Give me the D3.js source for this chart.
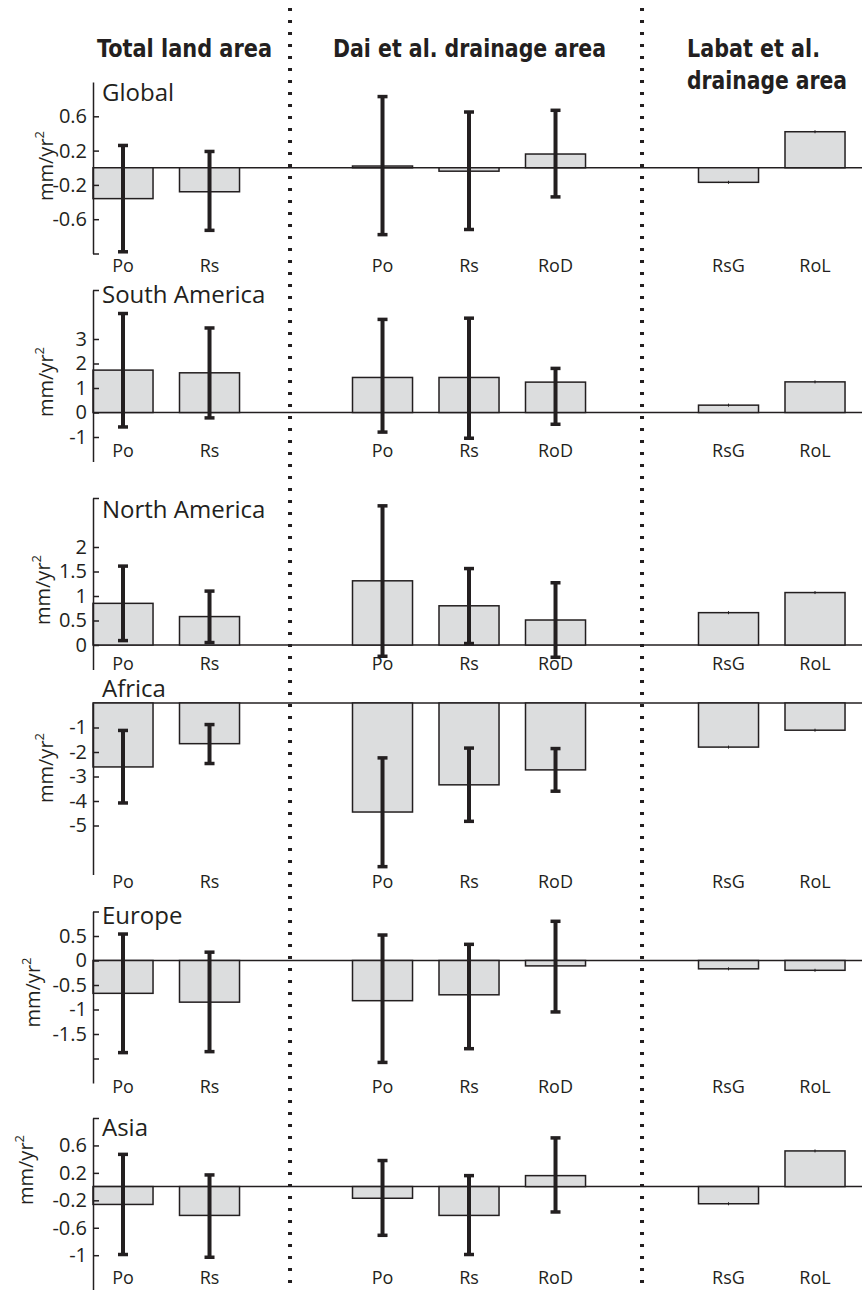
<!DOCTYPE html>
<html>
<head>
<meta charset="utf-8">
<script src="https://cdnjs.cloudflare.com/ajax/libs/d3/7.8.5/d3.min.js"></script>
<style>
    body { margin: 0; background: #fff; }
    svg { display: block; }
    text { font-family: 'Open Sans', 'Noto Sans', sans-serif; fill: #231f20; }
    .head { font-family: 'DejaVu Sans Condensed', 'Liberation Sans Narrow', sans-serif; font-weight: bold; }
</style>
</head>
<body>
<svg id="chart" width="862" height="1292"></svg>
<script>
(function() {
    'use strict';

    // ---- data ----
    var regions = ['Global', 'South America', 'North America', 'Africa', 'Europe', 'Asia'];
    var groupTitles = [['Total land area'], ['Dai et al. drainage area'], ['Labat et al.', 'drainage area']];
    var categories = ['Po', 'Rs', 'Po', 'Rs', 'RoD', 'RsG', 'RoL'];
    var categoryGroup = [0, 0, 1, 1, 1, 2, 2];

    // bar values, mm/yr^2 (one row per region, one column per category)
    var barValues = [
        [-0.36, -0.28, 0.02, -0.04, 0.16, -0.17, 0.42],
        [1.73, 1.62, 1.43, 1.43, 1.24, 0.30, 1.25],
        [0.85, 0.58, 1.31, 0.80, 0.51, 0.66, 1.07],
        [-2.61, -1.66, -4.45, -3.34, -2.73, -1.80, -1.11],
        [-0.67, -0.85, -0.82, -0.70, -0.11, -0.17, -0.20],
        [-0.26, -0.42, -0.17, -0.42, 0.16, -0.25, 0.52]
    ];
    // error bar ends (null = no visible error bar)
    var errLow = [
        [-0.98, -0.73, -0.78, -0.72, -0.34, null, null],
        [-0.59, -0.22, -0.80, -1.05, -0.48, null, null],
        [0.09, 0.05, -0.23, 0.03, -0.25, null, null],
        [-4.08, -2.47, -6.68, -4.83, -3.60, null, null],
        [-1.88, -1.86, -2.08, -1.80, -1.05, null, null],
        [-0.99, -1.03, -0.71, -0.99, -0.37, null, null]
    ];
    var errHigh = [
        [0.26, 0.19, 0.83, 0.65, 0.67, null, null],
        [4.04, 3.45, 3.80, 3.85, 1.80, null, null],
        [1.61, 1.10, 2.84, 1.56, 1.27, null, null],
        [-1.12, -0.88, -2.24, -1.84, -1.86, null, null],
        [0.54, 0.17, 0.52, 0.33, 0.80, null, null],
        [0.47, 0.17, 0.38, 0.16, 0.71, null, null]
    ];

    var yDomains = [[-1, 1], [-2, 5], [-0.5, 3], [-7, 0], [-2.5, 1], [-1.5, 1]];
    var tickValues = [
        [-1, -0.6, -0.2, 0.2, 0.6],
        [-1, 0, 1, 2, 3, 5],
        [0, 0.5, 1, 1.5, 2, 3],
        [-5, -4, -3, -2, -1],
        [-2, -1.5, -1, -0.5, 0, 0.5, 1],
        [-1, -0.6, -0.2, 0.2, 0.6, 1]
    ];
    var tickLabels = [
        ['', '-0.6', '-0.2', '0.2', '0.6'],
        ['-1', '0', '1', '2', '3', ''],
        ['0', '0.5', '1', '1.5', '2', ''],
        ['-5', '-4', '-3', '-2', '-1'],
        ['', '-1.5', '-1', '-0.5', '0', '0.5', ''],
        ['-1', '-0.6', '-0.2', '0.2', '0.6', '']
    ];

    // ---- layout ----
    var width = 862;
    var height = 1292;
    var axisX = 93;
    var panelHeight = 171.5;
    var panelTop = [82, 290, 498, 703, 911.5, 1118];
    var titleDy = [19, 12.5, 20, -6, 12, 18];
    var labelDy = [190, 167, 172, 185, 181, 166];
    var yLabelX = [53, 53, 50, 53, 40, 33];
    var yLabelDy = [84, 92, 92, 65, 81, 52];

    var svg = d3.select('#chart');

    // slots with gaps between the three groups
    var slotKeys = [];
    categories.forEach(function(c, i) {
        if (i > 0 && categoryGroup[i] !== categoryGroup[i - 1]) slotKeys.push('gap' + categoryGroup[i]);
        slotKeys.push(i);
    });

    var step = 86.5;
    var pad = 0.306;
    var x = d3.scaleBand()
        .domain(slotKeys)
        .range([axisX, axisX + (slotKeys.length - pad) * step])
        .paddingInner(pad)
        .paddingOuter(0)
        .align(0);

    // dotted separators
    svg.append('g')
        .selectAll('line')
        .data(['gap1', 'gap2'])
        .enter().append('line')
        .attr('x1', function(d, i) { return x(d) + x.bandwidth() / 2 - (i === 0 ? 6 : 0); })
        .attr('x2', function(d, i) { return x(d) + x.bandwidth() / 2 - (i === 0 ? 6 : 0); })
        .attr('y1', 8)
        .attr('y2', height)
        .attr('stroke', '#231f20')
        .attr('stroke-width', 4)
        .attr('stroke-dasharray', '3,9');

    // group headers
    var headX = [[97], [333], [820, 847]];
    var headAnchor = ['start', 'start', 'end'];
    var headLen = [[175], [273], [133, 160]];
    groupTitles.forEach(function(lines, g) {
        lines.forEach(function(line, k) {
            svg.append('text')
                .attr('class', 'head')
                .attr('x', headX[g][k])
                .attr('y', 57 + k * 32)
                .attr('text-anchor', headAnchor[g])
                .attr('textLength', headLen[g][k])
                .attr('lengthAdjust', 'spacingAndGlyphs')
                .style('font-size', '25px')
                .text(line);
        });
    });

    regions.forEach(function(region, r) {
        var top = panelTop[r];
        var y = d3.scaleLinear()
            .domain(yDomains[r])
            .range([top + panelHeight, top]);

        var g = svg.append('g').attr('class', 'panel');

        // zero line across the panel
        g.append('line')
            .attr('x1', axisX)
            .attr('x2', width)
            .attr('y1', y(0))
            .attr('y2', y(0))
            .attr('stroke', '#231f20')
            .attr('stroke-width', 1.5);

        var rows = categories.map(function(c, i) {
            return { key: i, cat: c, v: barValues[r][i], lo: errLow[r][i], hi: errHigh[r][i] };
        });

        g.append('g')
            .selectAll('rect')
            .data(rows)
            .enter().append('rect')
            .attr('x', function(d) { return x(d.key); })
            .attr('width', x.bandwidth())
            .attr('y', function(d) { return y(Math.max(0, d.v)); })
            .attr('height', function(d) { return Math.abs(y(d.v) - y(0)); })
            .attr('fill', '#dcddde')
            .attr('stroke', '#231f20')
            .attr('stroke-width', 1.5);

        var cx = function(d) { return x(d.key) + x.bandwidth() / 2; };

        var withErr = rows.filter(function(d) { return d.lo !== null; });
        var err = g.append('g').attr('stroke', '#231f20');
        err.selectAll('line.stem')
            .data(withErr)
            .enter().append('line')
            .attr('class', 'stem')
            .attr('x1', cx).attr('x2', cx)
            .attr('y1', function(d) { return y(d.lo); })
            .attr('y2', function(d) { return y(d.hi); })
            .attr('stroke-width', 4);
        ['lo', 'hi'].forEach(function(end) {
            err.selectAll('line.cap-' + end)
                .data(withErr)
                .enter().append('line')
                .attr('class', 'cap-' + end)
                .attr('x1', function(d) { return cx(d) - 5; })
                .attr('x2', function(d) { return cx(d) + 5; })
                .attr('y1', function(d) { return y(d[end]); })
                .attr('y2', function(d) { return y(d[end]); })
                .attr('stroke-width', 3.5);
        });
        // tiny marks where the error is too small to see
        err.selectAll('line.tiny')
            .data(rows.filter(function(d) { return d.lo === null; }))
            .enter().append('line')
            .attr('class', 'tiny')
            .attr('x1', cx).attr('x2', cx)
            .attr('y1', function(d) { return y(d.v) - 1.5; })
            .attr('y2', function(d) { return y(d.v) + 1.5; })
            .attr('stroke-width', 1);

        // y axis
        var labels = tickLabels[r];
        var axis = d3.axisLeft(y)
            .tickValues(tickValues[r])
            .tickSizeInner(-6)
            .tickSizeOuter(0)
            .tickPadding(6)
            .tickFormat(function(d, i) { return labels[i]; });
        var ag = g.append('g')
            .attr('transform', 'translate(' + axisX + ',0)')
            .call(axis);
        ag.select('.domain').attr('stroke', '#231f20').attr('stroke-width', 1.5);
        ag.selectAll('.tick line').attr('stroke', '#231f20').attr('stroke-width', 1.5);
        ag.selectAll('.tick text')
            .attr('fill', '#231f20')
            .style('font-family', "'Open Sans', sans-serif")
            .style('font-size', '20px');

        // category labels
        g.append('g')
            .selectAll('text')
            .data(rows)
            .enter().append('text')
            .attr('x', cx)
            .attr('y', top + labelDy[r])
            .attr('text-anchor', 'middle')
            .style('font-size', '18px')
            .text(function(d) { return d.cat; });

        // region title
        g.append('text')
            .attr('x', 102)
            .attr('y', top + titleDy[r])
            .style('font-size', '24px')
            .text(region);

        // y label
        var yl = g.append('text')
            .attr('transform', 'translate(' + yLabelX[r] + ',' + (top + yLabelDy[r]) + ') rotate(-90)')
            .attr('text-anchor', 'middle')
            .style('font-size', '20px');
        yl.append('tspan').text('mm/yr');
        yl.append('tspan').attr('dy', -9).style('font-size', '13px').text('2');
    });
}());
</script>
</body>
</html>
